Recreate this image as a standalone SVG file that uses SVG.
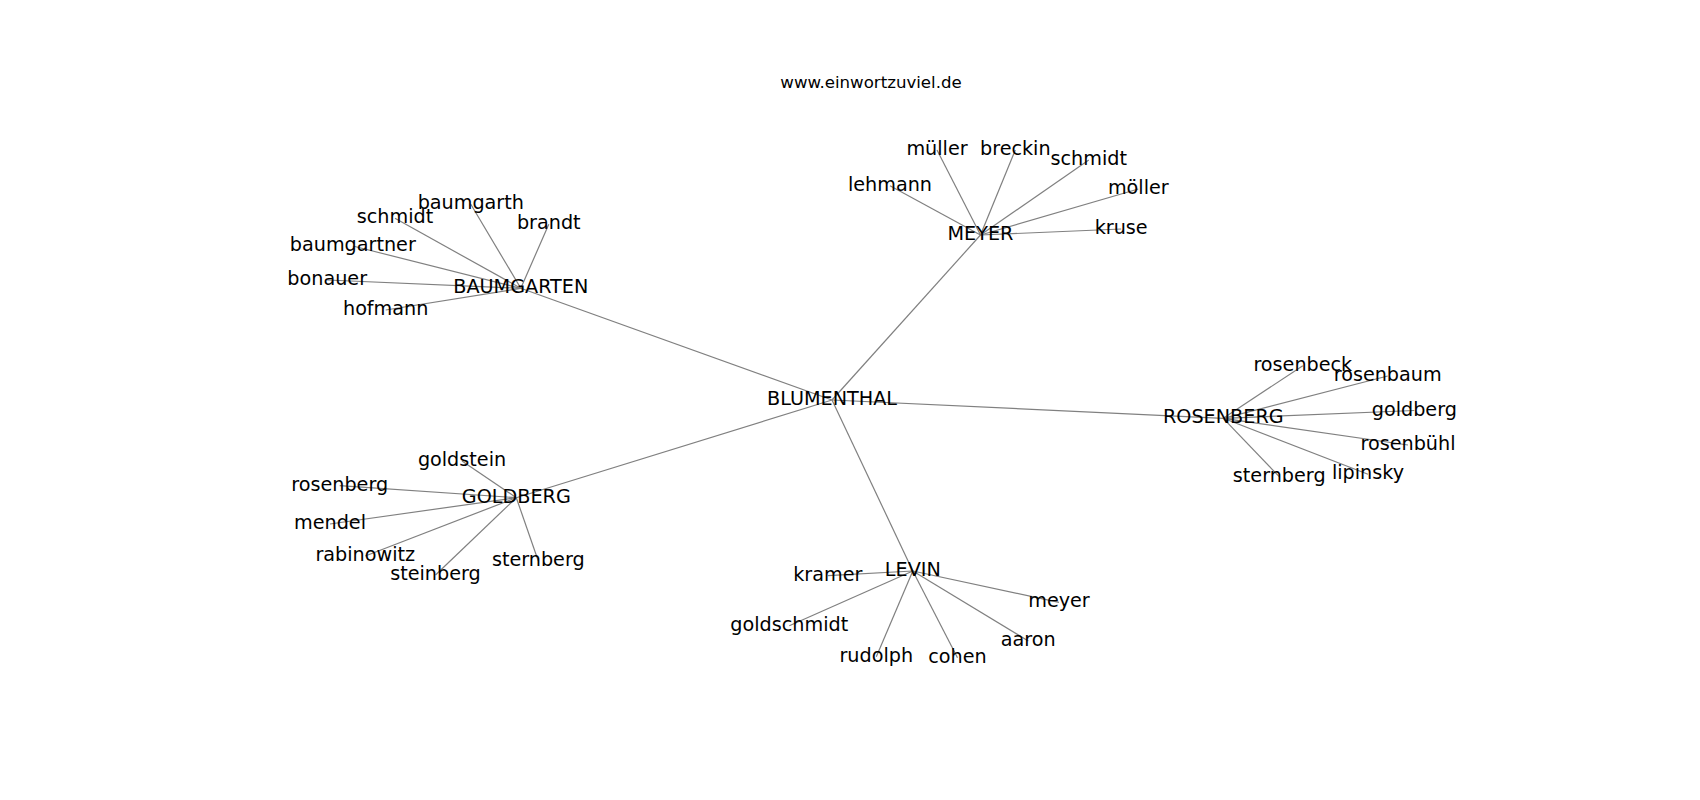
<svg xmlns="http://www.w3.org/2000/svg" width="1700" height="800" viewBox="0 0 1700 800">
<style>
.e{stroke:#808080;stroke-width:1.2;fill:none}
text{font-family:"DejaVu Sans",sans-serif;font-size:19.2px;fill:#000;text-anchor:middle}
.t{font-size:16.6px}
</style>
<rect width="1700" height="800" fill="#fff"/>
<text class="t" x="871" y="87.5">www.einwortzuviel.de</text>
<g id="edges">
<line class="e" x1="832" y1="400" x2="520.8" y2="288.3"/>
<line class="e" x1="832" y1="400" x2="980.5" y2="235"/>
<line class="e" x1="832" y1="400" x2="1223.3" y2="418.3"/>
<line class="e" x1="832" y1="400" x2="516.3" y2="497.7"/>
<line class="e" x1="832" y1="400" x2="912.8" y2="571"/>
<line class="e" x1="520.8" y1="288.3" x2="395" y2="218.3"/>
<line class="e" x1="520.8" y1="288.3" x2="470.8" y2="204.3"/>
<line class="e" x1="520.8" y1="288.3" x2="548.8" y2="224.3"/>
<line class="e" x1="520.8" y1="288.3" x2="352.8" y2="246"/>
<line class="e" x1="520.8" y1="288.3" x2="327.2" y2="280"/>
<line class="e" x1="520.8" y1="288.3" x2="385.7" y2="310"/>
<line class="e" x1="980.5" y1="235" x2="937" y2="150"/>
<line class="e" x1="980.5" y1="235" x2="1015.3" y2="150"/>
<line class="e" x1="980.5" y1="235" x2="1088.8" y2="160"/>
<line class="e" x1="980.5" y1="235" x2="890" y2="185.7"/>
<line class="e" x1="980.5" y1="235" x2="1138.3" y2="189"/>
<line class="e" x1="980.5" y1="235" x2="1121.2" y2="229"/>
<line class="e" x1="1223.3" y1="418.3" x2="1302.8" y2="365.7"/>
<line class="e" x1="1223.3" y1="418.3" x2="1387.7" y2="376"/>
<line class="e" x1="1223.3" y1="418.3" x2="1414.3" y2="410.5"/>
<line class="e" x1="1223.3" y1="418.3" x2="1408" y2="445"/>
<line class="e" x1="1223.3" y1="418.3" x2="1279.2" y2="476.7"/>
<line class="e" x1="1223.3" y1="418.3" x2="1368" y2="474.3"/>
<line class="e" x1="516.3" y1="497.7" x2="462" y2="461"/>
<line class="e" x1="516.3" y1="497.7" x2="339.7" y2="485.7"/>
<line class="e" x1="516.3" y1="497.7" x2="330" y2="524"/>
<line class="e" x1="516.3" y1="497.7" x2="365.3" y2="556"/>
<line class="e" x1="516.3" y1="497.7" x2="435.5" y2="575"/>
<line class="e" x1="516.3" y1="497.7" x2="538.3" y2="561"/>
<line class="e" x1="912.8" y1="571" x2="827.8" y2="575.7"/>
<line class="e" x1="912.8" y1="571" x2="1059" y2="602.3"/>
<line class="e" x1="912.8" y1="571" x2="789.3" y2="625.7"/>
<line class="e" x1="912.8" y1="571" x2="1028.3" y2="641"/>
<line class="e" x1="912.8" y1="571" x2="876.3" y2="656.7"/>
<line class="e" x1="912.8" y1="571" x2="957.5" y2="657.7"/>
</g>
<g id="n-blumenthal"><text x="832" y="405">BLUMENTHAL</text></g>
<g id="n-baumgarten"><text x="520.8" y="293.3">BAUMGARTEN</text></g>
<g id="n-baumgarten-schmidt"><text x="395" y="223.3">schmidt</text></g>
<g id="n-baumgarth"><text x="470.8" y="209.3">baumgarth</text></g>
<g id="n-brandt"><text x="548.8" y="229.3">brandt</text></g>
<g id="n-baumgartner"><text x="352.8" y="251">baumgartner</text></g>
<g id="n-bonauer"><text x="327.2" y="285">bonauer</text></g>
<g id="n-hofmann"><text x="385.7" y="315">hofmann</text></g>
<g id="n-meyer"><text x="980.5" y="240">MEYER</text></g>
<g id="n-mueller"><text x="937" y="155">müller</text></g>
<g id="n-breckin"><text x="1015.3" y="155">breckin</text></g>
<g id="n-meyer-schmidt"><text x="1088.8" y="165">schmidt</text></g>
<g id="n-lehmann"><text x="890" y="190.7">lehmann</text></g>
<g id="n-moeller"><text x="1138.3" y="194">möller</text></g>
<g id="n-kruse"><text x="1121.2" y="234">kruse</text></g>
<g id="n-rosenberg"><text x="1223.3" y="423.3">ROSENBERG</text></g>
<g id="n-rosenbeck"><text x="1302.8" y="370.7">rosenbeck</text></g>
<g id="n-rosenbaum"><text x="1387.7" y="381">rosenbaum</text></g>
<g id="n-rosenberg-goldberg"><text x="1414.3" y="415.5">goldberg</text></g>
<g id="n-rosenbuehl"><text x="1408" y="450">rosenbühl</text></g>
<g id="n-rosenberg-sternberg"><text x="1279.2" y="481.7">sternberg</text></g>
<g id="n-lipinsky"><text x="1368" y="479.3">lipinsky</text></g>
<g id="n-goldberg"><text x="516.3" y="502.7">GOLDBERG</text></g>
<g id="n-goldstein"><text x="462" y="466">goldstein</text></g>
<g id="n-goldberg-rosenberg"><text x="339.7" y="490.7">rosenberg</text></g>
<g id="n-mendel"><text x="330" y="529">mendel</text></g>
<g id="n-rabinowitz"><text x="365.3" y="561">rabinowitz</text></g>
<g id="n-steinberg"><text x="435.5" y="580">steinberg</text></g>
<g id="n-goldberg-sternberg"><text x="538.3" y="566">sternberg</text></g>
<g id="n-levin"><text x="912.8" y="576">LEVIN</text></g>
<g id="n-kramer"><text x="827.8" y="580.7">kramer</text></g>
<g id="n-levin-meyer"><text x="1059" y="607.3">meyer</text></g>
<g id="n-goldschmidt"><text x="789.3" y="630.7">goldschmidt</text></g>
<g id="n-aaron"><text x="1028.3" y="646">aaron</text></g>
<g id="n-rudolph"><text x="876.3" y="661.7">rudolph</text></g>
<g id="n-cohen"><text x="957.5" y="662.7">cohen</text></g>
</svg>
